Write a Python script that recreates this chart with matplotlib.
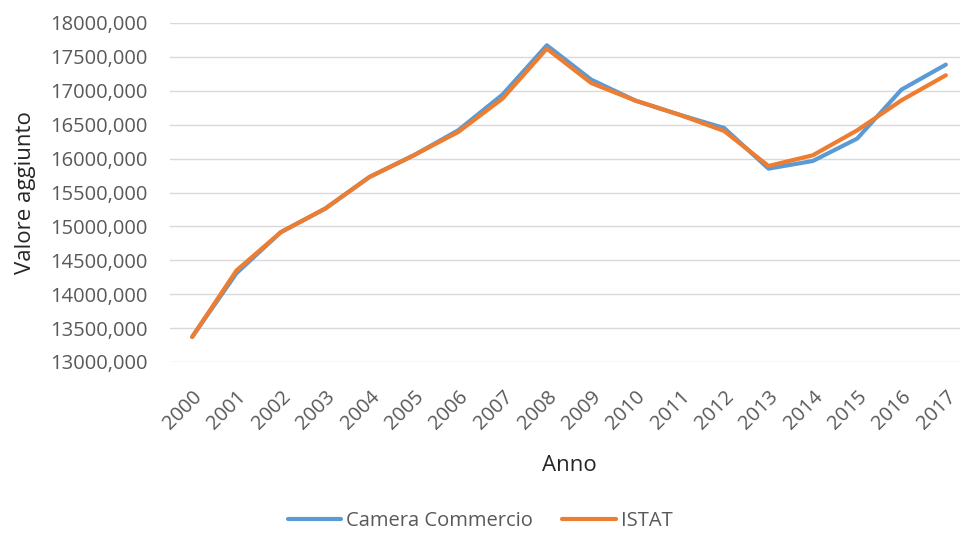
import matplotlib.pyplot as plt
from matplotlib.ticker import FuncFormatter

anni = [str(a) for a in range(2000, 2018)]
camera_commercio = [13370, 14310, 14915, 15262, 15729, 16049, 16417, 16944, 17671,
                    17165, 16855, 16645, 16451, 15852, 15965, 16295, 17018, 17386]
istat = [13370, 14350, 14915, 15262, 15729, 16049, 16392, 16885, 17622,
         17115, 16855, 16645, 16407, 15891, 16049, 16417, 16860, 17229]

plt.rcParams['font.family'] = ['Open Sans', 'DejaVu Sans']
grey = '#595959'

fig = plt.figure(figsize=(9.6, 5.37), dpi=100)
ax = fig.add_axes([170 / 960, 1 - 362 / 537, 798 / 960, 339 / 537])

x = range(len(anni))
ax.plot(x, camera_commercio, color='#5B9BD5', linewidth=3, label='Camera Commercio',
        solid_capstyle='round')
ax.plot(x, istat, color='#ED7D31', linewidth=3, label='ISTAT', solid_capstyle='round')

ax.set_xlim(-0.5, len(anni) - 0.5)
ax.set_ylim(13000, 18000)
ax.set_yticks(range(13000, 18001, 500))
ax.yaxis.set_major_formatter(FuncFormatter(lambda v, p: f'{int(v)},000'))
ax.set_xticks(list(x))
ax.set_xticklabels(anni, rotation=45, ha='right', rotation_mode='anchor')

ax.grid(axis='y', color='#d9d9d9', linewidth=1)
ax.set_axisbelow(True)
for s in ax.spines.values():
    s.set_visible(False)
ax.tick_params(length=0, labelsize=14.5, colors=grey)
ax.tick_params(axis='y', pad=16)
ax.tick_params(axis='x', pad=18)

ax.set_ylabel('Valore aggiunto', fontsize=16, color='#262626', labelpad=10)
ax.set_xlabel('Anno', fontsize=16, color='#262626', labelpad=15)

fig.legend(loc='lower center', bbox_to_anchor=(0.5, -0.022), ncol=2, frameon=False,
           fontsize=14.5, labelcolor=grey, handlelength=2.65, columnspacing=1.45,
           handletextpad=0.25)

fig.savefig('out.png', dpi=100)
